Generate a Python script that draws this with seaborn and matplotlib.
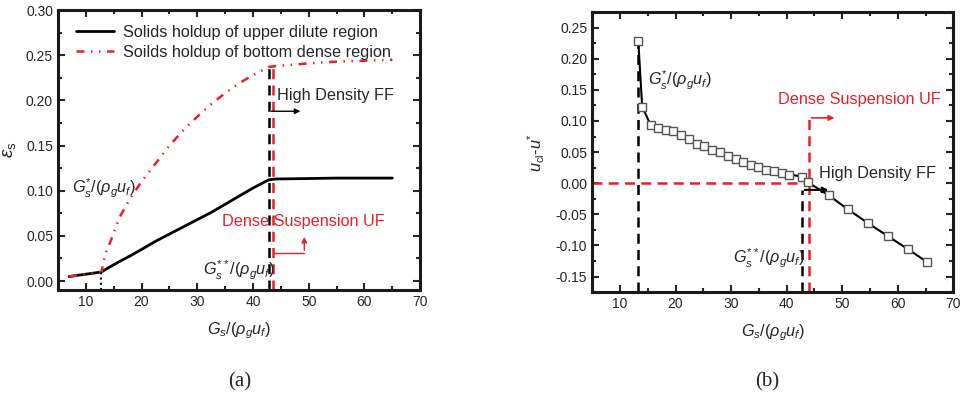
import numpy as np
import pandas as pd
import matplotlib
matplotlib.use("Agg")
import matplotlib.pyplot as plt
from matplotlib.ticker import MultipleLocator, FormatStrFormatter
import seaborn as sns

# ---- data ----
# (a) solids holdup
gs_upper = [7, 12.8, 14, 15, 16, 18, 20, 22.5, 25, 27.5, 30, 32.5, 35, 37.5, 40, 42.8, 44, 50, 55, 60, 65]
eps_upper = [0.005, 0.010, 0.0145, 0.018, 0.0215, 0.028, 0.035, 0.044, 0.052, 0.060, 0.068, 0.076, 0.085, 0.094, 0.103, 0.112, 0.113, 0.1135, 0.114, 0.114, 0.114]

gs_dense = [7, 12.8, 13.5, 14.5, 16, 18, 20, 22.5, 25, 27.5, 30, 32.5, 35, 37.5, 40, 42.8, 44, 50, 55, 60, 65]
eps_dense = [0.005, 0.010, 0.030, 0.045, 0.070, 0.092, 0.110, 0.130, 0.150, 0.167, 0.182, 0.196, 0.208, 0.219, 0.228, 0.237, 0.238, 0.241, 0.243, 0.244, 0.245]

# (b) slip velocity difference
gs_b = [13.3, 14.0, 15.5, 16.9, 18.3, 19.6, 21.0, 22.4, 23.8, 25.2, 26.6, 28.0, 29.4, 30.8,
        32.2, 33.5, 34.9, 36.3, 37.7, 39.1, 40.5, 42.7, 43.8, 47.6, 51.0, 54.6, 58.2, 61.8, 65.3]
du_b = [0.228, 0.123, 0.094, 0.088, 0.086, 0.0845, 0.0775, 0.071, 0.063, 0.060, 0.054, 0.050, 0.043, 0.039,
        0.034, 0.0295, 0.0256, 0.021, 0.019, 0.016, 0.014, 0.0107, 0.0016, -0.0197, -0.042, -0.064, -0.085, -0.106, -0.127]

# transition points
gs_star_a = 12.8
gs_2star_a = 42.8
gs_uf_a = 43.65
gs_star_b = 13.3
gs_2star_b = 42.75
gs_uf_b = 43.95

sns.set_style("ticks")
plt.rcParams["font.family"] = ["Liberation Sans", "DejaVu Sans"]
plt.rcParams["mathtext.fontset"] = "custom"
plt.rcParams["mathtext.rm"] = "Liberation Sans"
plt.rcParams["mathtext.it"] = "Liberation Sans:italic"
plt.rcParams["xtick.direction"] = "in"
plt.rcParams["ytick.direction"] = "in"

red = "#e8202a"
fig = plt.figure(figsize=(9.66, 4.04), dpi=100)
ax1 = fig.add_axes([0.060, 0.282, 0.375, 0.693])
ax2 = fig.add_axes([0.613, 0.277, 0.374, 0.693])

txt = 11.7
lbl_star = r"$G_s^{*}/(\rho_g u_f)$"
lbl_2star = r"$G_s^{**}/(\rho_g u_f)$"
xlab = r"$G_s/(\rho_g u_f)$"

# ---------- panel (a) ----------
df_up = pd.DataFrame({"Gs": gs_upper, "eps": eps_upper})
df_dn = pd.DataFrame({"Gs": gs_dense, "eps": eps_dense})
sns.lineplot(data=df_up, x="Gs", y="eps", ax=ax1, color="black", lw=2,
             label="Solids holdup of upper dilute region")
sns.lineplot(data=df_dn, x="Gs", y="eps", ax=ax1, color=red, lw=1.8,
             linestyle=(0, (3.2, 2.6, 0.6, 2.6, 0.6, 2.6)), label="Soilds holdup of bottom dense region")

ax1.vlines(gs_2star_a, -0.01, 0.238, colors="black", linestyles=(0, (4, 2.5)), lw=1.8)
ax1.vlines(gs_uf_a, -0.01, 0.238, colors=red, linestyles=(0, (4, 2.5)), lw=1.8)
ax1.vlines(gs_star_a, -0.01, 0.010, colors="black", linestyles=(0, (1, 1.5)), lw=1.5)

ax1.text(44.3, 0.205, "High Density FF", fontsize=txt, va="center", ha="left")
ax1.annotate("", xy=(49, 0.188), xytext=(gs_2star_a, 0.188),
             arrowprops=dict(arrowstyle="-|>", color="black", lw=1, mutation_scale=8))
ax1.text(34.4, 0.066, "Dense Suspension UF", fontsize=txt, color=red, va="center", ha="left")
ax1.plot([gs_uf_a, 49.2], [0.031, 0.031], color=red, lw=1)
ax1.annotate("", xy=(49.2, 0.052), xytext=(49.2, 0.031),
             arrowprops=dict(arrowstyle="-|>", color=red, lw=1, mutation_scale=8))
ax1.text(7.6, 0.103, lbl_star, fontsize=txt, va="center", ha="left")
ax1.text(31, 0.012, lbl_2star, fontsize=txt, va="center", ha="left")

ax1.set_xlim(5, 70)
ax1.set_ylim(-0.01, 0.30)
ax1.set_xticks(np.arange(10, 71, 10))
ax1.xaxis.set_minor_locator(MultipleLocator(5))
ax1.yaxis.set_major_locator(MultipleLocator(0.05))
ax1.yaxis.set_minor_locator(MultipleLocator(0.025))
ax1.yaxis.set_major_formatter(FormatStrFormatter("%.2f"))
ax1.set_xlabel(xlab, fontsize=txt, labelpad=8)
ax1.set_ylabel(r"$\varepsilon_{\rm s}$", fontsize=txt + 2, labelpad=6)
ax1.legend(loc="upper left", bbox_to_anchor=(0.01, 1.0), frameon=False, fontsize=txt,
           handlelength=2.3, handletextpad=0.6, labelspacing=0.3)

# ---------- panel (b) ----------
df_b = pd.DataFrame({"Gs": gs_b, "du": du_b})
ax2.hlines(0, 5, gs_uf_b, colors=red, linestyles=(0, (4, 2.5)), lw=1.8)
ax2.vlines(gs_star_b, -0.175, 0.228, colors="black", linestyles=(0, (4, 2.5)), lw=1.8)
ax2.vlines(gs_uf_b, -0.175, 0.105, colors=red, linestyles=(0, (4, 2.5)), lw=1.8)
ax2.vlines(gs_2star_b, -0.175, -0.0107, colors="black", linestyles=(0, (4, 2.5)), lw=1.8)
sns.lineplot(data=df_b, x="Gs", y="du", ax=ax2, color="black", lw=1.5, marker="s",
             markersize=6, markerfacecolor="white", markeredgecolor="#555555", markeredgewidth=1)

ax2.annotate("", xy=(49.1, 0.105), xytext=(gs_uf_b, 0.105),
             arrowprops=dict(arrowstyle="-|>", color=red, lw=1.2, mutation_scale=8))
ax2.annotate("", xy=(48, -0.0107), xytext=(gs_2star_b, -0.0107),
             arrowprops=dict(arrowstyle="-|>", color="black", lw=1.5, mutation_scale=8))
ax2.text(38.5, 0.134, "Dense Suspension UF", fontsize=txt, color=red, va="center", ha="left")
ax2.text(45.8, 0.015, "High Density FF", fontsize=txt, va="center", ha="left")
ax2.text(15.1, 0.165, lbl_star, fontsize=txt, va="center", ha="left")
ax2.text(30.4, -0.121, lbl_2star, fontsize=txt, va="center", ha="left")

ax2.set_xlim(5, 70)
ax2.set_ylim(-0.175, 0.275)
ax2.set_xticks(np.arange(10, 71, 10))
ax2.xaxis.set_minor_locator(MultipleLocator(5))
ax2.yaxis.set_major_locator(MultipleLocator(0.05))
ax2.yaxis.set_minor_locator(MultipleLocator(0.025))
ax2.yaxis.set_major_formatter(FormatStrFormatter("%.2f"))
ax2.set_xlabel(xlab, fontsize=txt, labelpad=8)
ax2.set_ylabel(r"$u_{\rm cl}$-$u^{*}$", fontsize=txt, labelpad=6)

for ax in (ax1, ax2):
    for s in ax.spines.values():
        s.set_visible(True)
        s.set_linewidth(2.2)
        s.set_color("#1a1a1a")
    ax.tick_params(which="both", top=True, right=True, direction="in", labelsize=10, width=1.5)
    ax.tick_params(which="major", length=5)
    ax.tick_params(which="minor", length=3)

fig.text(240 / 966, 1 - 382 / 404, "(a)", fontsize=15, family="Liberation Serif", ha="center", va="center")
fig.text(767 / 966, 1 - 382 / 404, "(b)", fontsize=15, family="Liberation Serif", ha="center", va="center")

fig.savefig("out.png", dpi=100)
